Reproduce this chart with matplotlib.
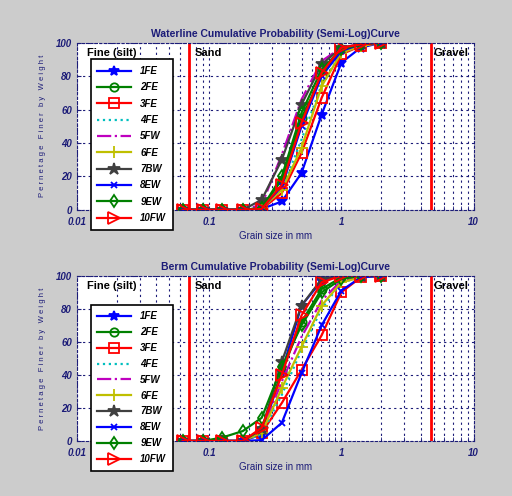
import numpy as np
import matplotlib
matplotlib.use('Agg')
import matplotlib.pyplot as plt
from matplotlib.ticker import LogLocator, FixedLocator, NullFormatter

plt.rcParams['font.family'] = ['Liberation Sans', 'DejaVu Sans']

# sieve sizes (mm)
sieve = [0.063, 0.09, 0.125, 0.18, 0.25, 0.355, 0.5, 0.71, 1.0, 1.4, 2.0]
names = ['1FE', '2FE', '3FE', '4FE', '5FW', '6FE', '7BW', '8EW', '9EW', '10FW']

# cumulative percent finer, waterline samples
waterline = [
    [0, 0, 0, 0, 0.5, 5, 22, 57, 88, 97, 100],
    [0, 0, 0, 0, 1, 18, 55, 80, 96, 99, 100],
    [0, 0, 0, 0, 0.5, 10, 34, 67, 93, 98, 100],
    [0, 0, 0, 0, 1, 12, 42, 75, 94, 98, 100],
    [0, 0, 0, 0, 3, 33, 66, 89, 97, 99, 100],
    [0, 0, 0, 0, 1, 12, 37, 74, 94, 98, 100],
    [0, 0, 0, 0, 6, 30, 63, 87, 97, 99, 100],
    [0, 0, 0, 0, 1, 14, 50, 80, 95, 99, 100],
    [0, 0, 0, 0, 1, 20, 58, 84, 96, 99, 100],
    [0, 0, 0, 0, 0.5, 15, 52, 82, 97, 99, 100],
]

# cumulative percent finer, berm samples
berm = [
    [0, 0, 0, 0, 4, 42, 82, 97, 100, 100, 100],
    [0, 0, 0, 0, 7, 42, 72, 92, 99, 100, 100],
    [0, 0, 0, 0, 5, 23, 43, 64, 90, 99, 100],
    [0, 0, 0, 0, 4, 28, 55, 80, 96, 99, 100],
    [0, 0, 0, 0, 6, 36, 63, 85, 97, 99, 100],
    [0, 0, 0, 0, 5, 32, 57, 82, 96, 99, 100],
    [0, 0, 0, 0, 7, 48, 82, 98, 100, 100, 100],
    [0, 0, 0, 0, 0.5, 11, 41, 70, 91, 99, 100],
    [0, 0, 2, 6, 14, 45, 70, 90, 98, 100, 100],
    [0, 0, 0, 0, 8, 40, 76, 96, 100, 100, 100],
]

silt_sand = 0.071
sand_gravel = 4.75

styles = [
    dict(color='#0000ff', ls='-', marker='*', ms=7, mfc='#0000ff'),
    dict(color='#008000', ls='-', marker='o', ms=6, mfc='none'),
    dict(color='#ff0000', ls='-', marker='s', ms=7, mfc='none'),
    dict(color='#00bfbf', ls=':', marker=None),
    dict(color='#bf00bf', ls='-.', marker=None),
    dict(color='#bfbf00', ls='-', marker='+', ms=8, mfc='none'),
    dict(color='#404040', ls='-', marker='*', ms=9, mfc='#404040'),
    dict(color='#0000ff', ls='-', marker='x', ms=5, mfc='none'),
    dict(color='#008000', ls='-', marker='d', ms=6, mfc='none'),
    dict(color='#ff0000', ls='-', marker='>', ms=8, mfc='none'),
]

navy = '#1c1c78'
fig = plt.figure(figsize=(5.12, 4.96), dpi=100, facecolor='#cccccc')


def draw(ax, data, title, leg_top, spacing):
    ax.set_facecolor('white')
    for vals, name, st in zip(data, names, styles):
        ax.plot(sieve, vals, label=name, lw=1.6, mew=1.3, **st)
    ax.plot([silt_sand, silt_sand], [0, 100], color='red', lw=2)
    ax.plot([sand_gravel, sand_gravel], [0, 100], color='red', lw=2)
    ax.set_xscale('log')
    ax.set_xlim(0.01, 10)
    ax.set_ylim(0, 100)
    ax.xaxis.set_major_locator(FixedLocator([0.01, 0.1, 1, 10]))
    ax.set_xticklabels(['0.01', '0.1', '1', '10'])
    ax.xaxis.set_minor_locator(LogLocator(base=10, subs=np.arange(2, 10)))
    ax.xaxis.set_minor_formatter(NullFormatter())
    ax.set_yticks([0, 20, 40, 60, 80, 100])
    ax.grid(True, which='both', color=navy, ls=(0, (2, 3)), lw=0.8)
    ax.tick_params(which='both', direction='in', colors=navy, labelsize=7,
                   length=3)
    ax.tick_params(axis='x', pad=5)
    for lab in ax.get_xticklabels() + ax.get_yticklabels():
        lab.set_fontstyle('italic')
        lab.set_fontweight('bold')
    for sp in ax.spines.values():
        sp.set_color(navy)
        sp.set_linestyle((0, (2, 2)))
    ax.set_title(title, color=navy, fontsize=7.5, fontweight='bold', pad=4)
    ax.set_xlabel('Grain size in mm', color=navy, fontsize=7, labelpad=3)
    ax.set_ylabel('P e r n e t a g e   F i n e r   b y   W e i g h t',
                  color=navy, fontsize=5.5, labelpad=7)
    ax.text(0.012, 97, 'Fine (silt)', fontsize=8, fontweight='bold', va='top')
    ax.text(0.078, 97, 'Sand', fontsize=8, fontweight='bold', va='top')
    ax.text(4.95, 97, 'Gravel', fontsize=8, fontweight='bold', va='top')
    leg = ax.legend(loc='upper left', bbox_to_anchor=(0.035, leg_top),
                    fancybox=False, edgecolor='black', framealpha=1,
                    prop=dict(size=7, style='italic', weight='bold'),
                    handlelength=3.4, labelspacing=spacing, borderpad=0.7,
                    handletextpad=1.0, borderaxespad=0)
    leg.get_frame().set_linewidth(1.2)


ax1 = fig.add_axes([0.150, 0.577, 0.775, 0.337])
draw(ax1, waterline, 'Waterline Cumulative Probability (Semi-Log)Curve',
     0.90, 0.65)
ax2 = fig.add_axes([0.150, 0.111, 0.775, 0.333])
draw(ax2, berm, 'Berm Cumulative Probability (Semi-Log)Curve', 0.825, 0.6)

fig.savefig('out.png', dpi=100, facecolor=fig.get_facecolor())
